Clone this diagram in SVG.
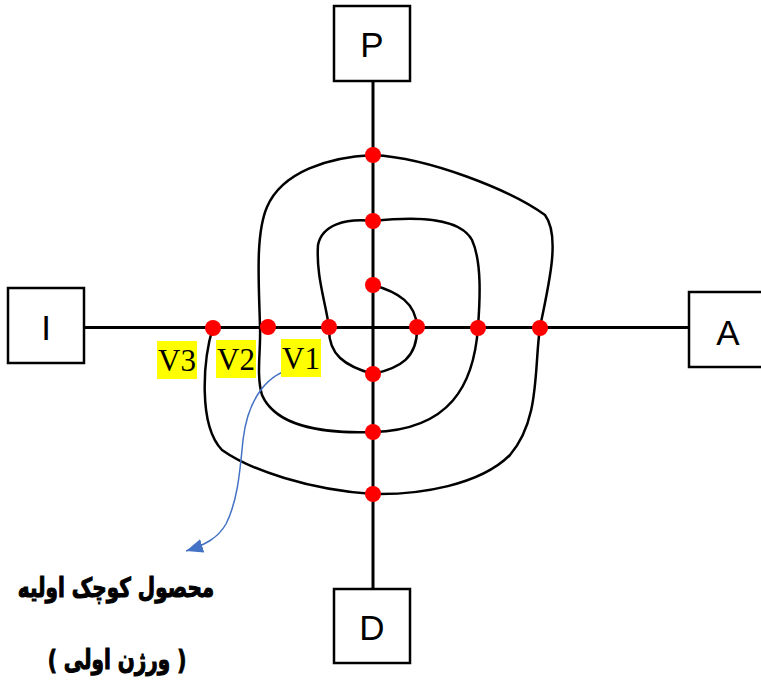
<svg xmlns="http://www.w3.org/2000/svg" width="761" height="683" viewBox="0 0 761 683">
<style>
.box{fill:#fff;stroke:#000;stroke-width:2.5}
.lbl{font-family:"Liberation Sans",Arial,sans-serif;font-size:35px;fill:#000;text-anchor:middle}
.axis{stroke:#000;stroke-width:3;fill:none}
.spiral{stroke:#000;stroke-width:2.5;fill:none}
.dot{fill:#FF0000}
.hl{fill:#FFFF00}
.v{font-family:"Liberation Serif","Times New Roman",serif;font-size:31px;fill:#000;text-anchor:middle}
.ar{font-family:"DejaVu Sans",sans-serif;font-weight:bold;font-size:20px;fill:#000;stroke:#000;stroke-width:0.8;text-anchor:middle}
</style>
<defs>
<marker id="arr" markerUnits="userSpaceOnUse" markerWidth="20" markerHeight="16" refX="17" refY="7" orient="auto">
<path d="M0,0 L17,7 L0,14 z" fill="#4472C4"/>
</marker>
</defs>
<g id="connectors">
<line class="axis" x1="84" y1="327.5" x2="689" y2="327.5"/>
<line class="axis" x1="373" y1="81" x2="373" y2="589"/>
<path class="spiral" d="M373,285 C398,292 416,303 417,327 C418,358 400,368 373,374 C345,366 328,355 329,327 C325,300 316,275 318,245 C322,225 345,218 373,221 C420,216 460,218 472,240 C482,262 480,300 478,327 C474,385 450,430 373,432 C320,434 275,425 262,395 C256,375 261,350 260,327 C259,285 255,235 267,207 C282,172 328,157 373,155 C430,158 510,190 545,215 C560,235 550,280 540,327 C534,370 540,420 510,455 C480,485 420,495 373,494 C310,490 250,470 222,450 C198,425 203,360 213,327"/>
<path d="M297,368 C268,372 248,398 243,440 C240,470 238,500 226,524 C218,538 205,545 186,551" fill="none" stroke="#4472C4" stroke-width="1.5" marker-end="url(#arr)"/>
</g>
<g id="node-P"><rect class="box" x="334" y="6" width="76" height="75"/><text class="lbl" x="372" y="57">P</text></g>
<g id="node-I"><rect class="box" x="8" y="288" width="76" height="75"/><text class="lbl" x="46" y="340">I</text></g>
<g id="node-A"><rect class="box" x="689" y="292" width="76" height="75"/><text class="lbl" x="728" y="345">A</text></g>
<g id="node-D"><rect class="box" x="334" y="589" width="76" height="74"/><text class="lbl" x="372" y="640">D</text></g>
<g id="dots">
<circle class="dot" cx="373" cy="155" r="8"/>
<circle class="dot" cx="373" cy="221" r="8"/>
<circle class="dot" cx="373" cy="285" r="8"/>
<circle class="dot" cx="213" cy="328" r="8"/>
<circle class="dot" cx="268" cy="327" r="8"/>
<circle class="dot" cx="329" cy="327" r="8"/>
<circle class="dot" cx="417" cy="327" r="8"/>
<circle class="dot" cx="478" cy="328" r="8"/>
<circle class="dot" cx="540" cy="328" r="8"/>
<circle class="dot" cx="373" cy="374" r="8"/>
<circle class="dot" cx="373" cy="432" r="8"/>
<circle class="dot" cx="373" cy="494" r="8"/>
</g>
<g id="labels">
<rect class="hl" x="157" y="341" width="40" height="38"/><text class="v" x="177" y="371">V3</text>
<rect class="hl" x="216" y="340" width="40" height="38"/><text class="v" x="236" y="370">V2</text>
<rect class="hl" x="281" y="339" width="40" height="38"/><text class="v" x="301" y="369">V1</text>
</g>
<g id="caption">
<text class="ar" transform="translate(116,597) scale(1,1.35)" direction="rtl">محصول کوچک اولیه</text>
<text class="ar" transform="translate(117,669) scale(1,1.35)" direction="rtl">( ورژن اولی )</text>
</g>
</svg>
